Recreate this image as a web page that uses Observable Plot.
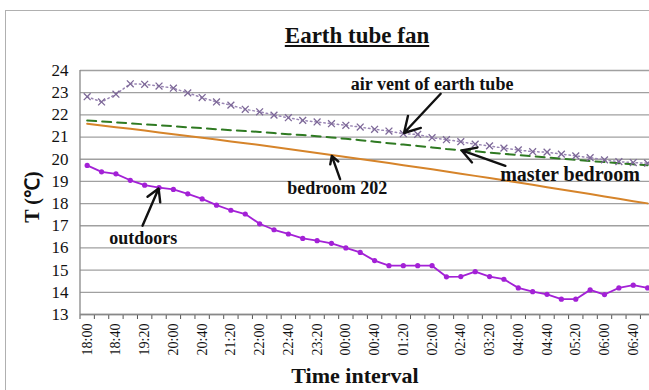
<!DOCTYPE html>
<html>
<head>
<meta charset="utf-8">
<script src="https://cdn.jsdelivr.net/npm/d3@7"></script>
<script src="https://cdn.jsdelivr.net/npm/@observablehq/plot@0.6"></script>
<style>
  html, body { margin: 0; padding: 0; background: #fff; }
  #wrap { position: relative; width: 649px; height: 390px; overflow: hidden; font-family: "Liberation Serif", "Times New Roman", serif; }
  #wrap svg { position: absolute; left: 0; top: 0; }
  .frame { position: absolute; left: 5px; top: 10px; width: 700px; height: 420px; border-left: 1.5px solid #b0b0b0; border-top: 1.5px solid #b0b0b0; pointer-events: none; }
  .title { position: absolute; left: 247px; width: 220px; top: 23px; text-align: center; font-weight: bold; font-size: 23px; text-decoration: underline; color: #111; }
  .ylab { position: absolute; left: 31px; top: 197px; transform: translate(-50%, -50%) rotate(-90deg); font-weight: bold; font-size: 20px; white-space: nowrap; color: #111; }
  .xlab { position: absolute; left: 245px; width: 220px; top: 363px; text-align: center; font-weight: bold; font-size: 22px; color: #111; }
</style>
</head>
<body>
<div id="wrap">
  <div class="frame"></div>
  <div class="title">Earth tube fan</div>
  <div class="ylab">T (℃)</div>
  <div class="xlab">Time interval</div>
</div>
<script>
const times = ["18:00","18:20","18:40","19:00","19:20","19:40","20:00","20:20","20:40","21:00",
               "21:20","21:40","22:00","22:20","22:40","23:00","23:20","23:40","00:00","00:20",
               "00:40","01:00","01:20","01:40","02:00","02:20","02:40","03:00","03:20","03:40",
               "04:00","04:20","04:40","05:00","05:20","05:40","06:00","06:20","06:40","07:00"];

const airVent = [22.82, 22.58, 22.93, 23.40, 23.38, 23.30, 23.20, 22.99, 22.78, 22.58,
                 22.44, 22.25, 22.14, 21.99, 21.87, 21.75, 21.68, 21.60, 21.53, 21.45,
                 21.35, 21.27, 21.15, 21.12, 20.97, 20.88, 20.79, 20.68, 20.60, 20.50,
                 20.42, 20.34, 20.32, 20.23, 20.15, 20.07, 19.97, 19.89, 19.85, 19.82];

const masterBedroom = [21.75, 21.70, 21.66, 21.62, 21.57, 21.53, 21.49, 21.44, 21.40, 21.35,
                       21.31, 21.27, 21.23, 21.18, 21.13, 21.09, 21.04, 20.98, 20.92, 20.86,
                       20.79, 20.72, 20.66, 20.60, 20.53, 20.46, 20.41, 20.36, 20.30, 20.24,
                       20.19, 20.14, 20.08, 20.02, 19.97, 19.92, 19.87, 19.82, 19.77, 19.73];

const bedroom202 = [21.60, 21.52, 21.44, 21.37, 21.29, 21.21, 21.13, 21.05, 20.97, 20.89,
                    20.80, 20.72, 20.64, 20.55, 20.46, 20.37, 20.28, 20.19, 20.10, 20.01,
                    19.92, 19.83, 19.73, 19.64, 19.55, 19.45, 19.35, 19.25, 19.15, 19.05,
                    18.95, 18.85, 18.74, 18.64, 18.53, 18.43, 18.32, 18.22, 18.11, 18.01];

const outdoors = [19.72, 19.43, 19.34, 19.05, 18.83, 18.72, 18.64, 18.44, 18.21, 17.93,
                  17.70, 17.53, 17.09, 16.82, 16.63, 16.43, 16.33, 16.21, 16.00, 15.80,
                  15.43, 15.20, 15.20, 15.20, 15.20, 14.70, 14.71, 14.93, 14.71, 14.59,
                  14.20, 14.03, 13.91, 13.69, 13.69, 14.11, 13.90, 14.20, 14.32, 14.20];

const yTicks = [13, 14, 15, 16, 17, 18, 19, 20, 21, 22, 23, 24];

// annotation labels: text position (category index, temperature), arrow tail, and the series point it points at
const notes = [
  {label: "air vent of earth tube", tx: 24.0, ty: 23.38, fx: 24.6, fy: 22.95, series: airVent, at: 22, size: 18},
  {label: "master bedroom",         tx: 33.6, ty: 19.30, fx: 29.1, fy: 19.70, series: masterBedroom, at: 26, size: 20},
  {label: "bedroom 202",            tx: 17.4, ty: 18.68, fx: 17.6, fy: 19.10, series: bedroom202, at: 17, size: 18},
  {label: "outdoors",               tx: 3.9,  ty: 16.42, fx: 3.85, fy: 17.00, series: outdoors, at: 5, size: 18}
];

const rows = times.map((t, i) => ({i, t, air: airVent[i], master: masterBedroom[i], b202: bedroom202[i], out: outdoors[i]}));
const boundaries = d3.range(times.length + 1).map(k => k - 0.5);
const labelIdx = d3.range(0, times.length - 1, 2);
const step = 14.37;

const chart = Plot.plot({
  width: 649,
  height: 390,
  marginLeft: 80,
  marginRight: 0,
  marginTop: 70,
  marginBottom: 76,
  style: {fontFamily: "'Liberation Serif', 'Times New Roman', serif", color: "#111", background: "transparent"},
  x: {type: "linear", domain: [-0.5, times.length - 0.5], range: [79.5, 79.5 + times.length * step]},
  y: {domain: [13, 24]},
  marks: [
    Plot.gridY(yTicks, {stroke: "#a0a0a0", strokeOpacity: 1, strokeWidth: 1.3}),
    Plot.axisY(yTicks, {tickSize: 0, tickPadding: 12, fontSize: 17, label: null}),
    Plot.axisX(boundaries, {tickSize: 5, tickFormat: () => "", label: null, stroke: "#555", strokeWidth: 1}),
    Plot.axisX(labelIdx, {tickSize: 0, tickPadding: 9, tickRotate: -90, tickFormat: i => times[i], fontSize: 14, label: null}),
    Plot.ruleX([-0.5], {stroke: "#888", strokeWidth: 1.3}),
    Plot.ruleY([13], {stroke: "#888", strokeWidth: 1.3}),
    Plot.line(rows, {x: "i", y: "b202", stroke: "#d6842a", strokeWidth: 2}),
    Plot.line(rows, {x: "i", y: "master", stroke: "#2f7a22", strokeWidth: 2, strokeDasharray: "9,6"}),
    Plot.line(rows, {x: "i", y: "air", stroke: "#9a86b4", strokeWidth: 1.5, strokeDasharray: "1.5,3"}),
    Plot.dot(rows, {x: "i", y: "air", symbol: "times", r: 3.2, stroke: "#7d6898", strokeWidth: 1.3}),
    Plot.line(rows, {x: "i", y: "out", stroke: "#a321d6", strokeWidth: 1.8}),
    Plot.dot(rows, {x: "i", y: "out", r: 2.6, fill: "#a321d6"}),
    Plot.arrow(notes, {x1: "fx", y1: "fy", x2: d => d.at, y2: d => d.series[d.at], stroke: "#111", strokeWidth: 2.4, headLength: 11, insetEnd: 1}),
    Plot.text(notes, {x: "tx", y: "ty", text: "label", fontSize: d => d.size, fontWeight: "bold", fill: "#111"})
  ]
});

document.getElementById("wrap").appendChild(chart);
</script>
</body>
</html>
